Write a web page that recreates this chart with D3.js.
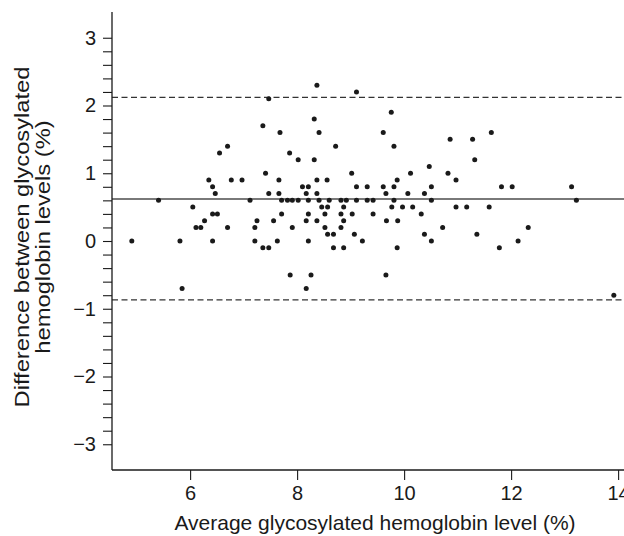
<!DOCTYPE html>
<html>
<head>
<meta charset="utf-8">
<script src="https://cdn.jsdelivr.net/npm/d3@7/dist/d3.min.js"></script>
<style>
  html, body { margin: 0; padding: 0; background: #fff; }
  svg { display: block; }
  text { font-family: "Liberation Sans", Arial, Helvetica, sans-serif; fill: #1a1a1a; }
</style>
</head>
<body>
<svg id="chart" width="624" height="536"></svg>
<script>
// Average glycosylated hemoglobin level (%) for each subject
const avgLevel = [
  7.47, 7.36, 7.68, 6.70, 6.55, 7.41, 6.35, 6.77, 6.97, 7.66,
  8.37, 9.11, 8.32, 9.76, 8.41, 9.61, 8.72, 9.81, 10.86, 7.86,
  8.02, 8.32, 10.47, 9.02, 10.12, 10.82, 8.37, 8.56, 9.87, 10.97,
  11.63, 11.28, 11.32, 6.42, 6.47, 7.47, 7.66, 5.41, 7.12, 6.05,
  6.42, 6.51, 7.71, 6.27, 7.25, 7.56, 6.11, 6.20, 6.70, 7.21,
  4.91, 5.81, 6.42, 7.21, 7.63, 7.36, 7.47, 5.85, 8.10, 8.21,
  9.11, 9.31, 9.61, 9.81, 10.51, 8.17, 8.37, 9.66, 10.07, 10.38,
  7.71, 7.82, 7.91, 8.02, 8.21, 8.41, 8.60, 8.82, 8.92, 9.11,
  9.31, 9.42, 9.81, 10.51,
  8.46, 8.57, 8.87, 9.77, 9.97, 10.16, 10.97, 11.17, 11.59,
  8.21, 8.52, 8.82, 9.03, 9.42, 10.32,
  8.17, 8.37, 8.87, 9.67, 9.88,
  7.91, 8.52, 8.82, 10.72,
  8.57, 8.68, 9.07, 10.38, 11.36,
  8.21, 9.22, 10.51, 12.13,
  8.68, 8.87, 9.87, 11.78,
  7.87, 8.26, 9.66,
  8.17,
  11.82, 12.02, 13.13,
  13.22,
  12.32,
  13.92
];
// Difference between glycosylated hemoglobin levels (%)
const difference = [
  2.1, 1.7, 1.6, 1.4, 1.3, 1.0, 0.9, 0.9, 0.9, 0.9,
  2.3, 2.2, 1.8, 1.9, 1.6, 1.6, 1.4, 1.4, 1.5, 1.3,
  1.2, 1.2, 1.1, 1.0, 1.0, 1.0, 0.9, 0.9, 0.9, 0.9,
  1.6, 1.5, 1.2, 0.8, 0.7, 0.7, 0.7, 0.6, 0.6, 0.5,
  0.4, 0.4, 0.4, 0.3, 0.3, 0.3, 0.2, 0.2, 0.2, 0.2,
  0.0, 0.0, 0.0, 0.0, 0.0, -0.1, -0.1, -0.7, 0.8, 0.8,
  0.8, 0.8, 0.8, 0.8, 0.8, 0.7, 0.7, 0.7, 0.7, 0.7,
  0.6, 0.6, 0.6, 0.6, 0.6, 0.6, 0.6, 0.6, 0.6, 0.6,
  0.6, 0.6, 0.6, 0.6,
  0.5, 0.5, 0.5, 0.5, 0.5, 0.5, 0.5, 0.5, 0.5,
  0.4, 0.4, 0.4, 0.4, 0.4, 0.4,
  0.3, 0.3, 0.3, 0.3, 0.3,
  0.2, 0.2, 0.2, 0.2,
  0.1, 0.1, 0.1, 0.1, 0.1,
  0.0, 0.0, 0.0, 0.0,
  -0.1, -0.1, -0.1, -0.1,
  -0.5, -0.5, -0.5,
  -0.7,
  0.8, 0.8, 0.8,
  0.6,
  0.2,
  -0.8
];
// Mean difference and limits of agreement
const meanDifference = 0.62;
const limitsOfAgreement = [2.12, -0.87];

const xTickValues = [6, 8, 10, 12, 14];
const yMinorTicks = d3.range(-30, 31, 2).map(v => v / 10);

const xTitle = "Average glycosylated hemoglobin level (%)";
const yTitleLines = ["Difference between glycosylated", "hemoglobin levels (%)"];

const points = avgLevel.map((a, i) => ({ a, d: difference[i] }));

const svg = d3.select("#chart");
const plotLeft = 112, plotRight = 624, plotTop = 12, plotBottom = 470;

const x = d3.scaleLinear().domain([4.54, 14.11]).range([plotLeft, plotRight]);
const y = d3.scaleLinear().domain([-3.38, 3.38]).range([plotBottom, plotTop]);

const ink = "#1a1a1a";

// Reference lines
svg.append("line")
  .attr("x1", plotLeft).attr("x2", plotRight)
  .attr("y1", y(meanDifference)).attr("y2", y(meanDifference))
  .attr("stroke", "#4d4d4d").attr("stroke-width", 1.3);

svg.selectAll("line.loa").data(limitsOfAgreement).enter().append("line")
  .attr("class", "loa")
  .attr("x1", plotLeft).attr("x2", plotRight)
  .attr("y1", d => y(d)).attr("y2", d => y(d))
  .attr("stroke", "#333").attr("stroke-width", 1.2)
  .attr("stroke-dasharray", "6,3.5");

// Points
svg.append("g").selectAll("circle").data(points).enter().append("circle")
  .attr("cx", d => x(d.a))
  .attr("cy", d => y(d.d))
  .attr("r", 2.5)
  .attr("fill", ink);

// Y axis
const yAxis = d3.axisLeft(y)
  .tickValues(yMinorTicks)
  .tickSize(9)
  .tickPadding(7)
  .tickFormat(v => (Math.abs(v - Math.round(v)) < 1e-9 ? d3.format("d")(Math.round(v)) : ""));
const gy = svg.append("g").attr("transform", `translate(${plotLeft},0)`).call(yAxis);
gy.select(".domain").attr("d", `M0,${plotTop}V${plotBottom}`).attr("stroke", ink).attr("stroke-width", 1.3);
gy.selectAll(".tick line").attr("stroke", ink).attr("stroke-width", 1.1);
gy.selectAll(".tick text").attr("font-size", 20).style("font-family", '"Liberation Sans", Arial, sans-serif').attr("fill", ink);

// X axis
const xAxis = d3.axisBottom(x).tickValues(xTickValues).tickSize(10).tickPadding(6).tickFormat(d3.format("d"));
const gx = svg.append("g").attr("transform", `translate(0,${plotBottom})`).call(xAxis);
gx.select(".domain").attr("d", `M${plotLeft},0H${plotRight}`).attr("stroke", ink).attr("stroke-width", 1.3);
gx.selectAll(".tick line").attr("stroke", ink).attr("stroke-width", 1.1);
gx.selectAll(".tick text").attr("font-size", 20).style("font-family", '"Liberation Sans", Arial, sans-serif').attr("fill", ink);

// Titles
svg.append("text")
  .attr("x", 375).attr("y", 530)
  .attr("text-anchor", "middle")
  .attr("font-size", 21)
  .text(xTitle);

svg.append("g").attr("transform", "translate(0,237) rotate(-90) scale(1.13,1)")
  .selectAll("text").data(yTitleLines).enter().append("text")
  .attr("x", 0)
  .attr("y", (d, i) => 29 + i * 21)
  .attr("text-anchor", "middle")
  .attr("font-size", 21)
  .text(d => d);
</script>
</body>
</html>
